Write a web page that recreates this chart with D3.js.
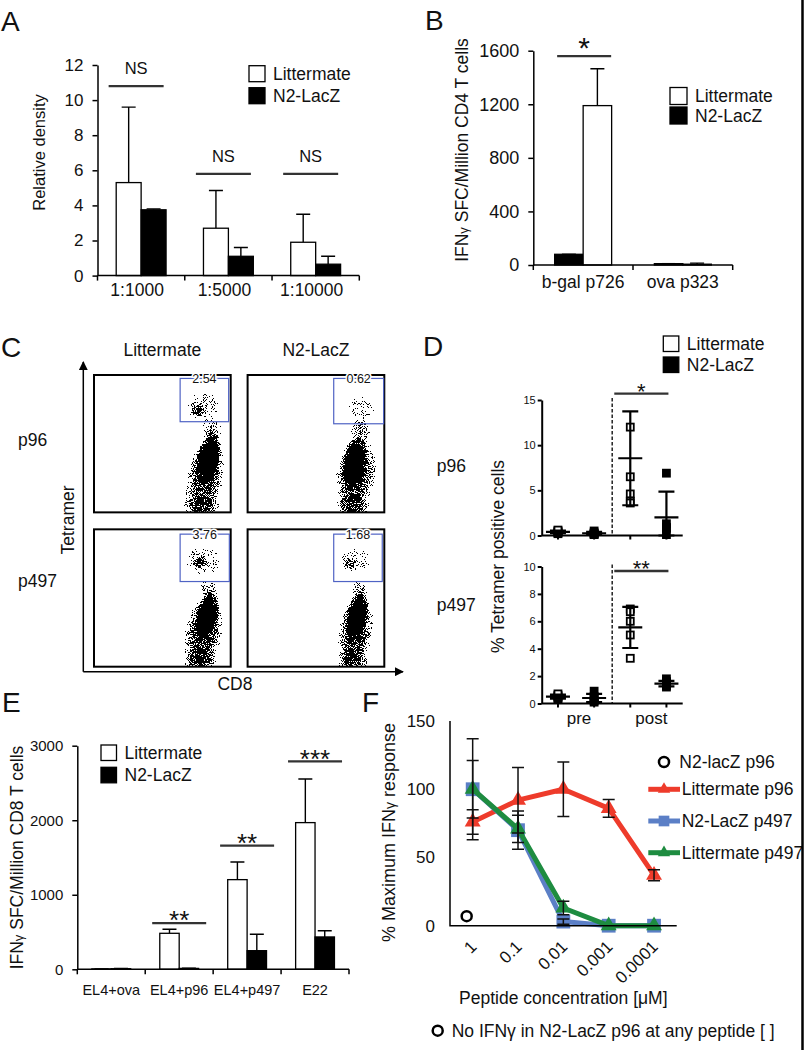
<!DOCTYPE html>
<html lang="en">
<head>
<meta charset="UTF-8">
<title>Figure</title>
<style>
  body { margin: 0; background: #fff; }
  svg text { font-family: "Liberation Sans", Arial, Helvetica, sans-serif; fill: #111; }
</style>
</head>
<body>
<div class="chart"></div>
<script src="https://d3js.org/d3.v7.min.js"></script>
<script>
// ---------------- data ----------------
// A
const aCats = ['1:1000', '1:5000', '1:10000'];
const aTicks = [0, 2, 4, 6, 8, 10, 12];
const aLitter = [5.3, 2.7, 1.9];
const aLitterSd = [4.3, 2.15, 1.6];
const aN2 = [3.75, 1.1, 0.65];
const aN2Sd = [0.05, 0.5, 0.45];
const aSig = ['NS', 'NS', 'NS'];
const aSigLevel = [10.8, 5.8, 5.8];

// B
const bCats = ['b-gal p726', 'ova p323'];
const bTicks = [0, 400, 800, 1200, 1600];
const bN2 = [80, 10];
const bN2Sd = [0, 0];
const bLitter = [1190, 6];
const bLitterSd = [275, 8];
const bSig = ['*', ''];
const bSigLevel = [1560, 0];

// C
const cCols = ['Littermate', 'N2-LacZ'];
const cRows = ['p96', 'p497'];
const cGatePct = [['2.54', '0.62'], ['3.76', '1.68']];
// gates [cd8 min, tet min, cd8 max, tet max] in relative units
const cGates = [
  [[0.63, 0.66, 0.985, 0.975], [0.63, 0.645, 0.995, 0.975]],
  [[0.63, 0.62, 0.99, 0.965], [0.63, 0.62, 0.985, 0.965]]
];
// populations as density blobs: [cd8, tet, spread cd8, spread tet, tilt, density]
const cBlobs = [
  [
    [[0.84, 0.4, 0.085, 0.2, 12, 0.95], [0.81, 0.25, 0.14, 0.3, 10, 0.5], [0.79, 0.04, 0.14, 0.1, 0, 0.35],
     [0.86, 0.6, 0.08, 0.1, 0, 0.25], [0.76, 0.745, 0.06, 0.045, -35, 0.4], [0.8, 0.77, 0.15, 0.12, 0, 0.15]],
    [[0.78, 0.36, 0.09, 0.2, 10, 0.95], [0.79, 0.27, 0.15, 0.3, 8, 0.5], [0.77, 0.04, 0.13, 0.1, 0, 0.35],
     [0.83, 0.6, 0.08, 0.1, 0, 0.25], [0.83, 0.77, 0.13, 0.1, 0, 0.12]]
  ],
  [
    [[0.83, 0.37, 0.085, 0.19, 12, 0.95], [0.8, 0.24, 0.14, 0.28, 10, 0.5], [0.78, 0.04, 0.13, 0.1, 0, 0.35],
     [0.84, 0.56, 0.07, 0.08, 0, 0.25], [0.77, 0.76, 0.06, 0.05, -35, 0.42], [0.8, 0.77, 0.15, 0.12, 0, 0.15]],
    [[0.8, 0.37, 0.08, 0.19, 12, 0.95], [0.79, 0.25, 0.13, 0.28, 10, 0.5], [0.77, 0.04, 0.12, 0.1, 0, 0.35],
     [0.82, 0.56, 0.06, 0.08, 0, 0.25], [0.75, 0.75, 0.05, 0.06, -35, 0.3], [0.79, 0.77, 0.14, 0.11, 0, 0.12]]
  ]
];

// D
const dGroups = ['pre Littermate', 'pre N2-LacZ', 'post Littermate', 'post N2-LacZ'];
const dP96Ticks = [0, 5, 10, 15];
const dP96Points = [[0.2, 0.3, 0.4, 0.5, 0.6], [0.1, 0.15, 0.2, 0.3, 0.5], [12, 6.5, 4.6, 3.8, 3.6], [6.9, 1.3, 0.9, 0.8, 0.1]];
const dP96Mean = [0.4, 0.25, 8.55, 2.0];
const dP96Sd = [0.15, 0.15, 5.2, 2.85];
const dP497Ticks = [0, 2, 4, 6, 8, 10];
const dP497Points = [[0.3, 0.4, 0.5, 0.6, 0.7], [0.1, 0.2, 0.3, 0.5, 0.9], [6.9, 6.7, 6.0, 5.0, 3.3], [1.8, 1.6, 1.5, 1.4, 1.3, 1.2]];
const dP497Mean = [0.5, 0.4, 5.55, 1.45];
const dP497Sd = [0.15, 0.3, 1.5, 0.2];

// E
const eCats = ['EL4+ova', 'EL4+p96', 'EL4+p497', 'E22'];
const eTicks = [0, 1000, 2000, 3000];
const eLitter = [5, 483, 1203, 1968];
const eLitterSd = [0, 55, 237, 586];
const eN2 = [8, 12, 250, 434];
const eN2Sd = [3, 3, 220, 84];
const eSig = ['', '**', '**', '***'];
const eSigLevel = [0, 620, 1660, 2790];

// F
const fConc = ['1', '0.1', '0.01', '0.001', '0.0001'];
const fTicks = [0, 50, 100, 150];
const fLitterP96 = [76, 92, 100, 86, 37];
const fLitterP96Err = [9, 24, 20, 6.5, 4];
const fN2P497 = [100, 70, 3, 0, 0];
const fN2P497Err = [21, 14, 2, 0, 0];
const fLitterP497 = [100, 71, 13, 0, 0];
const fLitterP497Err = [37, 10, 5, 0, 0];
const fN2P96 = [7];

// ---------------- drawing ----------------
const FONT = '"Liberation Sans", Arial, Helvetica, sans-serif';
const svg = d3.select('.chart').append('svg')
  .attr('width', 806).attr('height', 1050)
  .attr('font-family', FONT);

const defs = svg.append('defs');
const grad = defs.append('radialGradient').attr('id', 'dens');
grad.append('stop').attr('offset', '0%').attr('stop-color', '#000').attr('stop-opacity', 1);
grad.append('stop').attr('offset', '50%').attr('stop-color', '#000').attr('stop-opacity', 0.75);
grad.append('stop').attr('offset', '80%').attr('stop-color', '#000').attr('stop-opacity', 0.35);
grad.append('stop').attr('offset', '100%').attr('stop-color', '#000').attr('stop-opacity', 0);

// grain texture for the cytometry clouds: dither the cloud opacity with a noise field
const filt = defs.append('filter').attr('id', 'speckle')
  .attr('x', '-10%').attr('y', '-10%').attr('width', '120%').attr('height', '120%')
  .attr('color-interpolation-filters', 'sRGB');
filt.append('feTurbulence').attr('type', 'fractalNoise').attr('baseFrequency', 1.1)
  .attr('numOctaves', 1).attr('seed', 7).attr('result', 'n');
filt.append('feColorMatrix').attr('in', 'n').attr('type', 'matrix')
  .attr('values', '0 0 0 0 0  0 0 0 0 0  0 0 0 0 0  1.6 0 0 0 -0.08').attr('result', 'u');
filt.append('feComposite').attr('in', 'SourceAlpha').attr('in2', 'u').attr('operator', 'arithmetic')
  .attr('k1', 0).attr('k2', 1).attr('k3', 1).attr('k4', -0.5).attr('result', 's');
filt.append('feComponentTransfer').attr('in', 's').attr('result', 'dith')
  .append('feFuncA').attr('type', 'discrete').attr('tableValues', '0 1');
filt.append('feComponentTransfer').attr('in', 'SourceAlpha').attr('result', 'mask')
  .append('feFuncA').attr('type', 'discrete').attr('tableValues', '0 ' + d3.range(19).map(() => 1).join(' '));
filt.append('feComposite').attr('in', 'dith').attr('in2', 'mask').attr('operator', 'in');

defs.append('marker').attr('id', 'arrow').attr('viewBox', '0 0 10 10')
  .attr('refX', 9).attr('refY', 5).attr('markerWidth', 9).attr('markerHeight', 9)
  .attr('markerUnits', 'userSpaceOnUse').attr('orient', 'auto')
  .append('path').attr('d', 'M0,0L10,5L0,10Z').attr('fill', '#000');

function text(g, x, y, s, size, anchor) {
  return g.append('text').attr('x', x).attr('y', y).attr('font-size', size)
    .attr('text-anchor', anchor || 'start').text(s);
}

function vlabel(g, cx, cy, size, parts) {
  const t = g.append('text').attr('transform', `translate(${cx},${cy}) rotate(-90)`)
    .attr('text-anchor', 'middle').attr('dy', '0.35em').attr('font-size', size);
  parts.forEach(p => {
    const s = t.append('tspan').text(p[0]);
    if (p[1]) s.attr('font-size', p[1]);
  });
  return t;
}

function boxLegend(g, x, y0, gap, box, size) {
  [['Littermate', '#fff'], ['N2-LacZ', '#000']].forEach((d, i) => {
    const y = y0 + i * gap;
    g.append('rect').attr('x', x).attr('y', y).attr('width', box).attr('height', box)
      .attr('fill', d[1]).attr('stroke', '#000').attr('stroke-width', 1.3);
    text(g, x + box + 8, y + box / 2 + size * 0.35, d[0], size);
  });
}

function sigMark(g, x1, x2, ly, label, size, gap) {
  g.append('line').attr('x1', x1).attr('x2', x2).attr('y1', ly).attr('y2', ly)
    .attr('stroke', '#333').attr('stroke-width', 2.3);
  const star = label.indexOf('*') >= 0;
  const by = star ? ly - gap + 0.43 * size : ly - gap;
  text(g, (x1 + x2) / 2, by, label, size, 'middle');
}

function barPanel(o) {
  const g = svg.append('g');
  const x = d3.scaleBand().domain(o.cats).range([o.left, o.right]);
  const xs = d3.scaleBand().domain(o.series.map(s => s.key))
    .range([0, x.bandwidth()]).paddingOuter(0.75);
  const y = d3.scaleLinear().domain([0, d3.max(o.ticks)]).range([o.bottom, o.top]);

  o.series.forEach(s => {
    const bars = g.append('g');
    bars.selectAll('path').data(o.cats).join('path')
      .attr('d', (c, i) => {
        const cx = x(c) + xs(s.key) + xs.bandwidth() / 2;
        const top = y(s.vals[i] + s.sd[i]);
        return `M${cx},${y(s.vals[i])}V${top}M${cx - 7},${top}H${cx + 7}`;
      })
      .attr('fill', 'none').attr('stroke', '#000').attr('stroke-width', 1.4);
    bars.selectAll('rect').data(o.cats).join('rect')
      .attr('x', c => x(c) + xs(s.key))
      .attr('y', (c, i) => y(s.vals[i]))
      .attr('width', xs.bandwidth())
      .attr('height', (c, i) => y(0) - y(s.vals[i]))
      .attr('fill', s.fill).attr('stroke', '#000').attr('stroke-width', 1.3);
  });

  const ya = g.append('g').attr('transform', `translate(${o.left},0)`)
    .call(d3.axisLeft(y).tickValues(o.ticks).tickFormat(d3.format('d'))
      .tickSize(5).tickSizeOuter(0).tickPadding(9));
  ya.attr('font-family', FONT).attr('font-size', o.tickSize);
  ya.selectAll('path, line').attr('stroke-width', 1.5);

  g.append('path').attr('d', `M${o.left},${o.bottom}H${o.right}`)
    .attr('stroke', '#000').attr('stroke-width', 1.5);
  const edges = o.cats.map(c => x(c)).concat(o.right);
  g.selectAll('.xt').data(edges).join('line')
    .attr('x1', d => d).attr('x2', d => d)
    .attr('y1', o.bottom).attr('y2', o.bottom + 5)
    .attr('stroke', '#000').attr('stroke-width', 1.5);
  g.selectAll('.xl').data(o.cats).join('text')
    .attr('x', c => x(c) + x.bandwidth() / 2 + (o.labelShift || 0))
    .attr('y', o.bottom + o.labelDy)
    .attr('text-anchor', 'middle').attr('font-size', o.labelSize)
    .text(c => c);

  o.sig.forEach((s, i) => {
    if (!s) return;
    const cx = x(o.cats[i]) + x.bandwidth() / 2 + (o.sigShift || 0);
    sigMark(g, cx - o.sigHalf, cx + o.sigHalf, y(o.sigLevel[i]), s, o.sigSize, o.sigGap);
  });
  return g;
}

// ---- panel A ----
const gA = barPanel({
  cats: aCats, ticks: aTicks, left: 97.5, right: 359.3, top: 65, bottom: 275.6,
  series: [{ key: 'Littermate', vals: aLitter, sd: aLitterSd, fill: '#fff' },
           { key: 'N2-LacZ', vals: aN2, sd: aN2Sd, fill: '#000' }],
  tickSize: 17, labelSize: 17.5, labelDy: 20, labelShift: -4,
  sig: aSig, sigLevel: aSigLevel, sigHalf: 27.5, sigShift: -5, sigSize: 16.5, sigGap: 11.7
});
vlabel(gA, 39, 152.5, 16.5, [['Relative density']]);
boxLegend(gA, 249, 65.7, 22, 16, 17.5);
text(svg, 1, 31, 'A', 28);

// ---- panel B ----
const gB = barPanel({
  cats: bCats, ticks: bTicks, left: 533.3, right: 732.7, top: 50.7, bottom: 265,
  series: [{ key: 'N2-LacZ', vals: bN2, sd: bN2Sd, fill: '#000' },
           { key: 'Littermate', vals: bLitter, sd: bLitterSd, fill: '#fff' }],
  tickSize: 18, labelSize: 17.5, labelDy: 23,
  sig: bSig, sigLevel: bSigLevel, sigHalf: 27, sigShift: 1, sigSize: 30, sigGap: 10.5
});
vlabel(gB, 461.7, 150, 17.5, [['IFN'], ['γ', 13], [' SFC/Million CD4 T cells']]);
boxLegend(gB, 670, 87.5, 19.5, 17, 17.5);
text(svg, 425, 30, 'B', 28);

// ---- panel C ----
const gC = svg.append('g');
const cx = d3.scaleBand().domain(cCols).range([94, 384.3]).paddingInner(0.11);
const cy = d3.scaleBand().domain(cRows).range([375, 666.7]).paddingInner(0.11);
cRows.forEach((row, r) => {
  cCols.forEach((col, c) => {
    const bx = cx(col), by = cy(row), bw = cx.bandwidth(), bh = cy.bandwidth();
    const px = d3.scaleLinear().domain([0, 1]).range([bx, bx + bw]);
    const py = d3.scaleLinear().domain([0, 1]).range([by + bh, by]);
    const clipId = `clip-${r}-${c}`;
    defs.append('clipPath').attr('id', clipId)
      .append('rect').attr('x', bx).attr('y', by).attr('width', bw).attr('height', bh);
    const cell = gC.append('g').attr('clip-path', `url(#${clipId})`)
      .append('g').attr('filter', 'url(#speckle)');
    cell.selectAll('ellipse').data(cBlobs[r][c]).join('ellipse')
      .attr('transform', d => `translate(${px(d[0])},${py(d[1])}) rotate(${d[4]})`)
      .attr('rx', d => px(d[2]) - px(0))
      .attr('ry', d => py(0) - py(d[3]))
      .attr('fill', 'url(#dens)')
      .attr('fill-opacity', d => d[5]);
    gC.append('rect').attr('x', bx).attr('y', by).attr('width', bw).attr('height', bh)
      .attr('fill', 'none').attr('stroke', '#000').attr('stroke-width', 2);
    const gt = cGates[r][c];
    gC.append('rect').attr('x', px(gt[0])).attr('y', py(gt[3]))
      .attr('width', px(gt[2]) - px(gt[0])).attr('height', py(gt[1]) - py(gt[3]))
      .attr('fill', 'none').attr('stroke', '#4f63c4').attr('stroke-width', 1.2);
    text(gC, (px(gt[0]) + px(gt[2])) / 2, py(gt[3]) + 4.5, cGatePct[r][c], 12.5, 'middle')
      .attr('stroke', '#fff').attr('stroke-width', 3).attr('paint-order', 'stroke');
  });
});
cCols.forEach(col => text(gC, cx(col) + cx.bandwidth() / 2, 355.5, col, 17.5, 'middle'));
text(gC, 18, 446, 'p96', 17.5);
text(gC, 18, 587, 'p497', 17.5);
gC.append('line').attr('x1', 83.3).attr('x2', 83.3).attr('y1', 671.7).attr('y2', 362)
  .attr('stroke', '#000').attr('stroke-width', 1.5).attr('marker-end', 'url(#arrow)');
gC.append('line').attr('x1', 83.3).attr('x2', 403).attr('y1', 671.7).attr('y2', 671.7)
  .attr('stroke', '#000').attr('stroke-width', 1.5).attr('marker-end', 'url(#arrow)');
vlabel(gC, 68.3, 520, 17.5, [['Tetramer']]);
text(gC, 235, 690, 'CD8', 17.5, 'middle');
text(svg, 1, 356.5, 'C', 28);

// ---- panel D ----
const gD = svg.append('g');
const dx = d3.scalePoint().domain(dGroups).range([541.7, 682.7]).padding(0.45);
function dotPanel(o) {
  const g = gD.append('g');
  const y = d3.scaleLinear().domain([0, d3.max(o.ticks)]).range([o.bottom, o.top]);
  const xd = (dx(dGroups[1]) + dx(dGroups[2])) / 2;
  g.append('line').attr('x1', xd).attr('x2', xd).attr('y1', o.top - 2).attr('y2', o.bottom)
    .attr('stroke', '#222').attr('stroke-width', 1.5).attr('stroke-dasharray', '3.5,2');
  dGroups.forEach((k, gi) => {
    const xc = dx(k);
    g.append('g').selectAll('rect').data(o.points[gi]).join('rect')
      .attr('x', xc - 3.5).attr('y', d => y(d) - 3.5).attr('width', 7).attr('height', 7)
      .attr('fill', gi % 2 ? '#000' : '#fff').attr('stroke', '#000').attr('stroke-width', 1.8);
    const m = o.mean[gi], s = o.sd[gi];
    const lo = y(Math.max(0, m - s)), hi = y(m + s);
    g.append('path')
      .attr('d', `M${xc},${lo}V${hi}M${xc - 8},${hi}H${xc + 8}M${xc - 8},${lo}H${xc + 8}M${xc - 12},${y(m)}H${xc + 12}`)
      .attr('fill', 'none').attr('stroke', '#000').attr('stroke-width', 2.2);
  });
  const ya = g.append('g').attr('transform', `translate(541.7,0)`)
    .call(d3.axisLeft(y).tickValues(o.ticks).tickSize(4).tickSizeOuter(0).tickPadding(2));
  ya.attr('font-family', FONT).attr('font-size', 11);
  ya.selectAll('path, line').attr('stroke-width', 2);
  ya.selectAll('text').attr('fill', '#333');
  g.append('path').attr('d', `M541.7,${o.bottom}H682.7`).attr('stroke', '#000').attr('stroke-width', 2);
  g.selectAll('.xt').data(dGroups).join('line')
    .attr('x1', d => dx(d)).attr('x2', d => dx(d))
    .attr('y1', o.bottom).attr('y2', o.bottom + 4)
    .attr('stroke', '#000').attr('stroke-width', 2);
  sigMark(g, dx(dGroups[2]) - 16, dx(dGroups[3]) + 2, y(o.sigLevel), o.sig, 22, 4);
  return y;
}
dotPanel({ ticks: dP96Ticks, top: 400, bottom: 535.5, points: dP96Points,
  mean: dP96Mean, sd: dP96Sd, sig: '*', sigLevel: 15.7 });
dotPanel({ ticks: dP497Ticks, top: 566.5, bottom: 703.5, points: dP497Points,
  mean: dP497Mean, sd: dP497Sd, sig: '**', sigLevel: 9.67 });
text(gD, (dx(dGroups[0]) + dx(dGroups[1])) / 2 + 3, 724, 'pre', 17, 'middle');
text(gD, (dx(dGroups[2]) + dx(dGroups[3])) / 2 + 3, 724, 'post', 17, 'middle');
vlabel(gD, 498.3, 556.5, 17.5, [['% Tetramer positive cells']]);
text(gD, 436.7, 472, 'p96', 17.5);
text(gD, 436.7, 611, 'p497', 17.5);
boxLegend(gD, 663.3, 336, 21, 15.5, 17.5);
text(svg, 423, 356, 'D', 28);

// ---- panel E ----
const gE = barPanel({
  cats: eCats, ticks: eTicks, left: 77.3, right: 349, top: 745.7, bottom: 969.3,
  series: [{ key: 'Littermate', vals: eLitter, sd: eLitterSd, fill: '#fff' },
           { key: 'N2-LacZ', vals: eN2, sd: eN2Sd, fill: '#000' }],
  tickSize: 15, labelSize: 14.5, labelDy: 25.5,
  sig: eSig, sigLevel: eSigLevel, sigHalf: 27, sigShift: 0, sigSize: 26, sigGap: 5
});
vlabel(gE, 16.7, 857.5, 17.5, [['IFN'], ['γ', 13], [' SFC/Million CD8 T cells']]);
boxLegend(gE, 101, 745, 22.3, 15.5, 17.5);
text(svg, 2, 711.7, 'E', 28);

// ---- panel F ----
const gF = svg.append('g');
const fx = d3.scaleBand().domain(fConc).range([450, 676.7]);
const fy = d3.scaleLinear().domain([0, 150]).range([925.7, 721]);
const fcx = c => fx(c) + fx.bandwidth() / 2;
const fSeries = [
  { name: 'Littermate p96', vals: fLitterP96, err: fLitterP96Err, color: '#ee3b2b', sym: d3.symbolTriangle, size: 110 },
  { name: 'N2-LacZ p497', vals: fN2P497, err: fN2P497Err, color: '#5b7fc6', sym: d3.symbolSquare, size: 190 },
  { name: 'Littermate p497', vals: fLitterP497, err: fLitterP497Err, color: '#1e8c40', sym: d3.symbolTriangle, size: 110 }
];
const fLine = d3.line().x((d, i) => fcx(fConc[i])).y(d => fy(d));
fSeries.forEach(s => {
  gF.append('path').attr('d', fLine(s.vals)).attr('fill', 'none')
    .attr('stroke', s.color).attr('stroke-width', 5).attr('stroke-linejoin', 'round');
  gF.append('g').selectAll('path').data(s.vals).join('path')
    .attr('transform', (d, i) => `translate(${fcx(fConc[i])},${fy(d)})`)
    .attr('d', d3.symbol(s.sym, s.size)).attr('fill', s.color);
});
fSeries.forEach(s => {
  gF.append('g').selectAll('path').data(s.vals).join('path')
    .attr('d', (d, i) => {
      if (!s.err[i]) return null;
      const xc = fcx(fConc[i]), lo = fy(d - s.err[i]), hi = fy(d + s.err[i]);
      return `M${xc},${lo}V${hi}M${xc - 6},${hi}H${xc + 6}M${xc - 6},${lo}H${xc + 6}`;
    })
    .attr('fill', 'none').attr('stroke', '#111').attr('stroke-width', 1.5);
});
gF.append('g').selectAll('circle').data(fN2P96).join('circle')
  .attr('cx', (d, i) => fcx(fConc[i]) - 6).attr('cy', d => fy(d)).attr('r', 5)
  .attr('fill', '#fff').attr('stroke', '#000').attr('stroke-width', 2.5);

gF.append('path').attr('d', `M450,${fy(150)}V${fy(0)}H676.7`)
  .attr('fill', 'none').attr('stroke', '#000').attr('stroke-width', 1.5);
gF.selectAll('.yt').data(fTicks).join('text')
  .attr('x', 435).attr('y', d => fy(d) + 6).attr('text-anchor', 'end')
  .attr('font-size', 17).text(d => d);
gF.selectAll('.xl').data(fConc).join('text')
  .attr('transform', c => `translate(${fcx(c) + 5},${fy(0) + 22}) rotate(-45)`)
  .attr('text-anchor', 'end').attr('font-size', 17).text(c => c);
text(gF, 563.3, 1004.3, 'Peptide concentration [μM]', 17.5, 'middle');
vlabel(gF, 388.3, 832.5, 18, [['% Maximum IFN'], ['γ', 14], [' response']]);

// legend
gF.append('circle').attr('cx', 664).attr('cy', 762).attr('r', 5)
  .attr('fill', '#fff').attr('stroke', '#000').attr('stroke-width', 2.5);
text(gF, 679.3, 768, 'N2-lacZ p96', 17.5);
fSeries.forEach((s, i) => {
  const ly = 789.3 + i * 31.7;
  gF.append('line').attr('x1', 648.3).attr('x2', 680).attr('y1', ly).attr('y2', ly)
    .attr('stroke', s.color).attr('stroke-width', 5);
  gF.append('path').attr('transform', `translate(664,${ly})`)
    .attr('d', d3.symbol(s.sym, s.size * 0.6)).attr('fill', s.color);
  text(gF, 681.7, ly + 6, s.name, 17.5);
});
gF.append('circle').attr('cx', 437.7).attr('cy', 1030.7).attr('r', 5)
  .attr('fill', '#fff').attr('stroke', '#000').attr('stroke-width', 2.5);
text(gF, 451.7, 1036.7, 'No IFNγ in N2-LacZ p96 at any peptide [ ]', 17.5);
text(svg, 362, 712, 'F', 28);

// right border
svg.append('line').attr('x1', 802.5).attr('x2', 802.5).attr('y1', 0).attr('y2', 1050)
  .attr('stroke', '#000').attr('stroke-width', 2.5);
</script>
</body>
</html>
